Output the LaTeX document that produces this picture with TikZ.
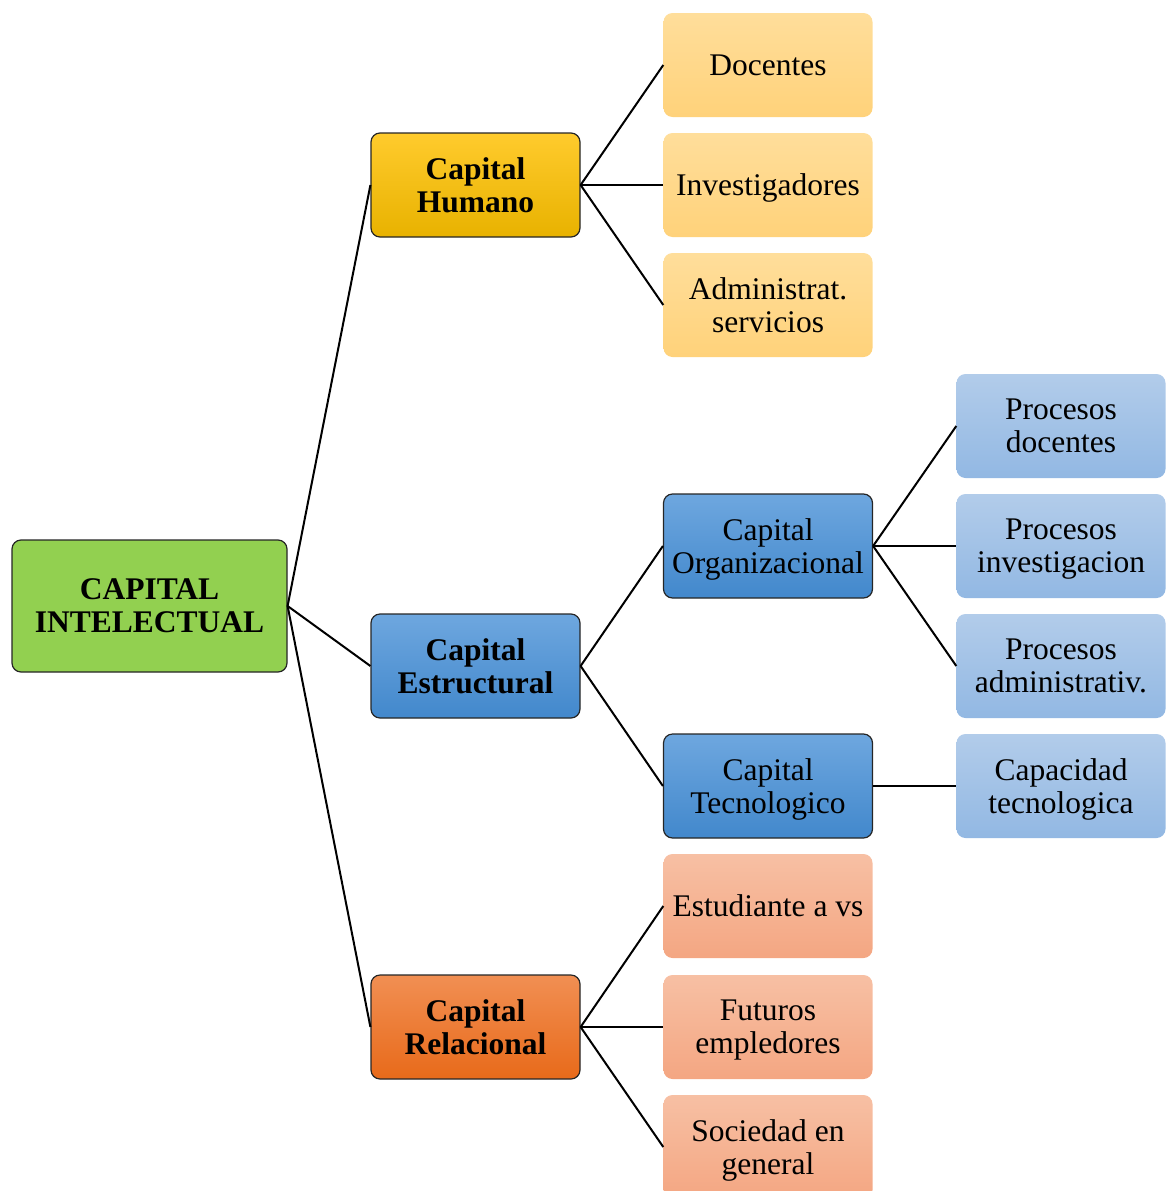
\documentclass[tikz,border=0pt]{standalone}
\usepackage{fontspec}
\setmainfont{Liberation Serif}
\begin{document}
\begin{tikzpicture}[x=1pt,y=-1pt,
  box/.style={rounded corners=9pt, align=center, inner sep=2pt, text depth=0pt,
    font=\fontsize{31.5}{33}\selectfont, text=black},
  rootbox/.style={box, draw=black!85, line width=1.2pt, fill={rgb,255:red,146;green,208;blue,80},
    minimum width=275pt, minimum height=132pt, font=\fontsize{31.5}{33}\selectfont\bfseries},
  lone/.style={box, draw=black!85, line width=1.2pt, minimum width=209pt, minimum height=104pt,
    font=\fontsize{31.5}{33}\selectfont\bfseries},
  ltwo/.style={box, minimum width=209pt, minimum height=104pt},
  dk/.style={box, draw=black!85, line width=1.2pt, minimum width=209pt, minimum height=104pt},
  gold/.style={top color={rgb,255:red,255;green,203;blue,45}, bottom color={rgb,255:red,232;green,178;blue,0}},
  lgold/.style={top color={rgb,255:red,255;green,222;blue,155}, bottom color={rgb,255:red,255;green,210;blue,122}},
  blu/.style={top color={rgb,255:red,110;green,167;blue,223}, bottom color={rgb,255:red,66;green,136;blue,204}},
  lblu/.style={top color={rgb,255:red,178;green,204;blue,234}, bottom color={rgb,255:red,146;green,184;blue,227}},
  org/.style={top color={rgb,255:red,241;green,143;blue,83}, bottom color={rgb,255:red,232;green,106;blue,26}},
  lorg/.style={top color={rgb,255:red,247;green,192;blue,164}, bottom color={rgb,255:red,244;green,166;blue,130}},
  conn/.style={line width=2pt, black}]
\useasboundingbox (0,0) rectangle (1168,1191);
\node[rootbox] (root) at (149.5,606) {CAPITAL\\INTELECTUAL};
\node[lone,gold] (hum) at (475.5,185) {Capital\\Humano};
\node[lone,blu] (est) at (475.5,666) {Capital\\Estructural};
\node[lone,org] (rel) at (475.5,1027) {Capital\\Relacional};
\node[ltwo,lgold] (doc) at (768,65) {Docentes};
\node[ltwo,lgold] (inv) at (768,185) {Investigadores};
\node[ltwo,lgold] (adm) at (768,305) {Administrat.\\servicios};
\node[dk,blu] (corg) at (768,546) {Capital\\Organizacional};
\node[dk,blu] (ctec) at (768,786) {Capital\\Tecnologico};
\node[ltwo,lorg] (estu) at (768,906) {Estudiante a vs};
\node[ltwo,lorg] (fut) at (768,1027) {Futuros\\empledores};
\node[ltwo,lorg] (soc) at (768,1147) {Sociedad en\\general};
\node[ltwo,lblu] (pdoc) at (1061,426) {Procesos\\docentes};
\node[ltwo,lblu] (pinv) at (1061,546) {Procesos\\investigacion};
\node[ltwo,lblu] (padm) at (1061,666) {Procesos\\administrativ.};
\node[ltwo,lblu] (cap) at (1061,786) {Capacidad\\tecnologica};
\foreach \c in {hum,est,rel} \draw[conn] (root.east) -- (\c.west);
\foreach \c in {doc,inv,adm} \draw[conn] (hum.east) -- (\c.west);
\foreach \c in {corg,ctec} \draw[conn] (est.east) -- (\c.west);
\foreach \c in {estu,fut,soc} \draw[conn] (rel.east) -- (\c.west);
\foreach \c in {pdoc,pinv,padm} \draw[conn] (corg.east) -- (\c.west);
\draw[conn] (ctec.east) -- (cap.west);
\end{tikzpicture}
\end{document}
